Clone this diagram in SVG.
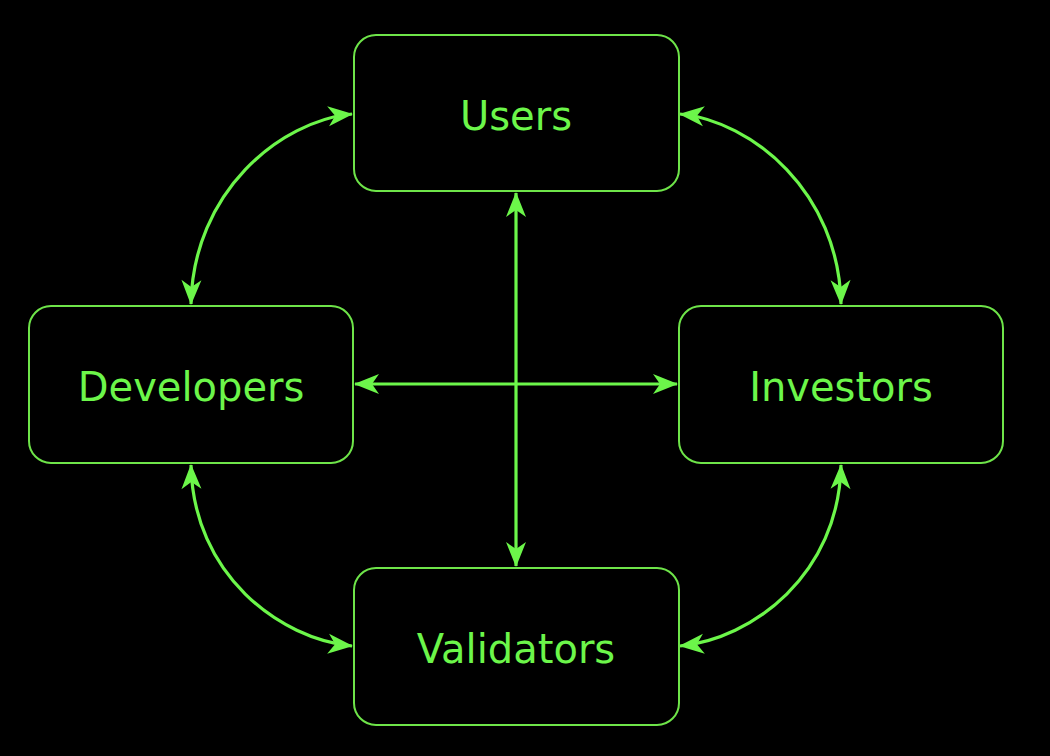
<svg xmlns="http://www.w3.org/2000/svg" width="1050" height="756" viewBox="0 0 1050 756">
  <style>
    .box { fill: #000000; stroke: #6ee449; stroke-width: 2; }
    .lbl { fill: #6cf64a; font-family: "DejaVu Sans", "Liberation Sans", sans-serif; font-size: 40px; text-anchor: middle; }
    .edge { fill: none; stroke: #6cf64a; stroke-width: 3.2; marker-start: url(#arr); marker-end: url(#arr); }
  </style>
  <defs>
    <marker id="arr" viewBox="-27 -12 29 24" refX="0" refY="0" markerWidth="29" markerHeight="24" markerUnits="userSpaceOnUse" orient="auto-start-reverse">
      <path d="M1,0 L-24,-10 L-17,0 L-24,10 Z" fill="#6cf64a"/>
    </marker>
  </defs>
  <rect x="0" y="0" width="1050" height="756" fill="#000000"/>

  <g id="connectors">
    <path class="edge" d="M352,114 C280,121 193,192 191,304"/>
    <path class="edge" d="M680,114 C752,121 839,192 841,304"/>
    <path class="edge" d="M191,465 C193,575 280,639 352,646"/>
    <path class="edge" d="M841,465 C839,575 752,639 680,646"/>
    <path class="edge" d="M516,193 L516,566"/>
    <path class="edge" d="M355,384 L677,384"/>
  </g>

  <g id="users">
    <rect class="box" x="354" y="35" width="325" height="156" rx="22" ry="22"/>
    <text class="lbl" x="516" y="130">Users</text>
  </g>
  <g id="developers">
    <rect class="box" x="29" y="306" width="324" height="157" rx="22" ry="22"/>
    <text class="lbl" x="191" y="401">Developers</text>
  </g>
  <g id="investors">
    <rect class="box" x="679" y="306" width="324" height="157" rx="22" ry="22"/>
    <text class="lbl" x="841" y="401">Investors</text>
  </g>
  <g id="validators">
    <rect class="box" x="354" y="568" width="325" height="157" rx="22" ry="22"/>
    <text class="lbl" x="516" y="663">Validators</text>
  </g>
</svg>
